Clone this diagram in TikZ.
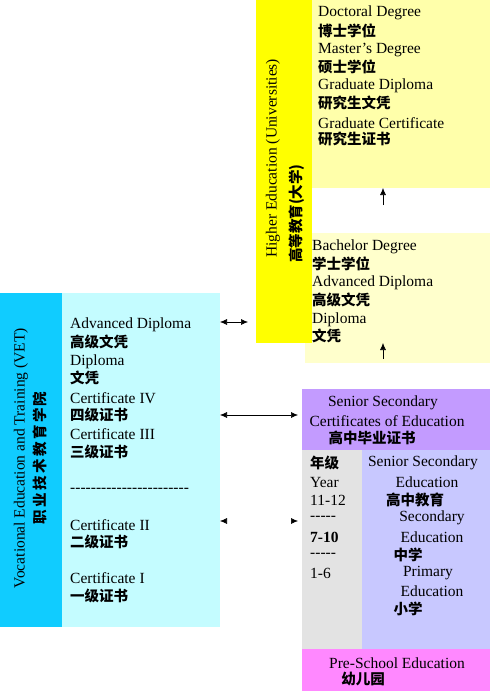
\documentclass[tikz,border=0pt]{standalone}
\usepackage{fontspec}
\setmainfont{Liberation Serif}
\newfontfamily\cjk{Noto Sans CJK SC}
\usetikzlibrary{arrows.meta}
\definecolor{hebarc}{HTML}{FFFF00}
\definecolor{hetopc}{HTML}{FFFFAA}
\definecolor{helowc}{HTML}{FFFFCC}
\definecolor{vetbarc}{HTML}{10CCFF}
\definecolor{vetboxc}{HTML}{C4FCFF}
\definecolor{sscec}{HTML}{C39BFF}
\definecolor{gradec}{HTML}{E3E3E3}
\definecolor{schoolc}{HTML}{C8C8FF}
\definecolor{prec}{HTML}{FF88FF}
\newcommand{\dashrow}{-{}-{}-{}-{}-{}-{}-{}-{}-{}-{}-{}-{}-{}-{}-{}-{}-{}-{}-{}-{}-{}-{}-}
\newcommand{\fivedash}{-{}-{}-{}-{}-}
\begin{document}
\begin{tikzpicture}[x=1pt,y=-1pt,
  en/.style={font=\fontsize{15.5}{18}\selectfont, inner sep=0pt, anchor=west},
  zh/.style={font=\fontsize{14.5}{18}\selectfont\cjk\bfseries, inner sep=0pt, anchor=west},
  enc/.style={en, anchor=center},
  zhc/.style={zh, anchor=center},
  box/.style={inner sep=0pt, draw=none, anchor=north west},
  uptip/.style={-{Latex[length=7pt,width=6pt]}, line width=0.6pt},
  both/.style={{Latex[length=7pt,width=6pt]}-{Latex[length=7pt,width=6pt]}, line width=0.6pt}
]
\useasboundingbox (0,0) rectangle (490,691);
% boxes
\node[box, fill=hetopc, minimum width=179pt, minimum height=188pt] (hetop) at (311,0) {};
\node[box, fill=helowc, minimum width=185pt, minimum height=130pt] (helow) at (305,233) {};
\node[box, fill=hebarc, minimum width=56pt, minimum height=343pt] (hebar) at (256,0) {};
\node[box, fill=vetbarc, minimum width=62pt, minimum height=334pt] (vetbar) at (0,293) {};
\node[box, fill=vetboxc, minimum width=158pt, minimum height=334pt] (vetbox) at (62,293) {};
\node[box, fill=sscec, minimum width=188pt, minimum height=61pt] (ssce) at (302,389) {};
\node[box, fill=gradec, minimum width=60pt, minimum height=199pt] (grade) at (302,450) {};
\node[box, fill=schoolc, minimum width=128pt, minimum height=199pt] (school) at (362,450) {};
\node[box, fill=prec, minimum width=188pt, minimum height=42pt] (pre) at (302,649) {};

% vertical titles
\node[en, rotate=90] (hetitle) at (273,258) {Higher Education (Universities)};
\node[zh, rotate=90] (hetitlezh) at (297,263) {高等教育(大学)};
\node[enc, rotate=90] (vettitle) at (21,458) {Vocational Education and Training (VET)};
\node[zhc, rotate=90] (vettitlezh) at (40,458) {职\,业\,技\,术\,教\,育\,学\,院};

% higher education top
\node[en] (t1) at (318,13) {Doctoral Degree};
\node[zh] (t1z) at (318,31) {博士学位};
\node[en] (t2) at (318,50) {Master’s Degree};
\node[zh] (t2z) at (318,67) {硕士学位};
\node[en] (t3) at (318,86) {Graduate Diploma};
\node[zh] (t3z) at (318,103) {研究生文凭};
\node[en] (t4) at (318,123) {Graduate Certificate};
\node[zh] (t4z) at (318,139) {研究生证书};
% higher education lower
\node[en] (l1) at (312,247) {Bachelor Degree};
\node[zh] (l1z) at (312,264) {学士学位};
\node[en] (l2) at (312,283) {Advanced Diploma};
\node[zh] (l2z) at (312,300) {高级文凭};
\node[en] (l3) at (312,320) {Diploma};
\node[zh] (l3z) at (312,336) {文凭};

% VET
\node[en] (v1) at (70,325) {Advanced Diploma};
\node[zh] (v1z) at (70,342) {高级文凭};
\node[en] (v2) at (70,362) {Diploma};
\node[zh] (v2z) at (70,378) {文凭};
\node[en] (v3) at (70,398) {Certificate IV};
\node[zh] (v3z) at (70,415) {四级证书};
\node[en] (v4) at (70,434) {Certificate III};
\node[zh] (v4z) at (70,452) {三级证书};
\node[en] (vd) at (70,490) {\dashrow};
\node[en] (v5) at (70,525) {Certificate II};
\node[zh] (v5z) at (70,542) {二级证书};
\node[en] (v6) at (70,578) {Certificate I};
\node[zh] (v6z) at (70,596) {一级证书};

% SSCE
\node[enc] (s1) at (383,403) {Senior Secondary};
\node[enc] (s2) at (387,421) {Certificates of Education};
\node[zhc] (s3) at (372,438) {高中毕业证书};

% grades
\node[zh] (g0) at (310,463) {年级};
\node[en] (g1) at (310,482) {Year};
\node[en] (g2) at (310,500) {11-12};
\node[en] (g3) at (310,518) {\fivedash};
\node[en, font=\fontsize{15.5}{18}\selectfont\bfseries] (g4) at (310,537) {7-10};
\node[en] (g5) at (310,555) {\fivedash};
\node[en] (g6) at (310,573) {1-6};

% schools
\node[enc] (c1) at (423,463) {Senior Secondary};
\node[enc] (c2) at (427,482) {Education};
\node[zhc] (c3) at (415,500) {高中教育};
\node[enc] (c4) at (432,518) {Secondary};
\node[enc] (c5) at (432,537) {Education};
\node[zhc] (c6) at (408,555) {中学};
\node[enc] (c7) at (428,573) {Primary};
\node[enc] (c8) at (432,591) {Education};
\node[zhc] (c9) at (408,609) {小学};

% pre-school
\node[enc] (p1) at (397,663) {Pre-School Education};
\node[zhc] (p2) at (363,679) {幼儿园};

% arrows
\coordinate (a1s) at (383,205); \coordinate (a1e) at (383,188);
\coordinate (a2s) at (383,359); \coordinate (a2e) at (383,343);
\draw[uptip] (a1s) -- (a1e);
\draw[uptip] (a2s) -- (a2e);
\coordinate (b1l) at (220,322); \coordinate (b1r) at (248,322);
\coordinate (b2l) at (220,415); \coordinate (b2r) at (298,415);
\coordinate (b3l) at (220,521); \coordinate (b3r) at (298,521);
\draw[both] (b1l) -- (b1r);
\draw[both] (b2l) -- (b2r);
\draw[{Latex[length=7pt,width=6pt,black]}-{Latex[length=7pt,width=6pt,black]}, line width=0.6pt, draw=white] (b3l) -- (b3r);
\end{tikzpicture}
\end{document}
